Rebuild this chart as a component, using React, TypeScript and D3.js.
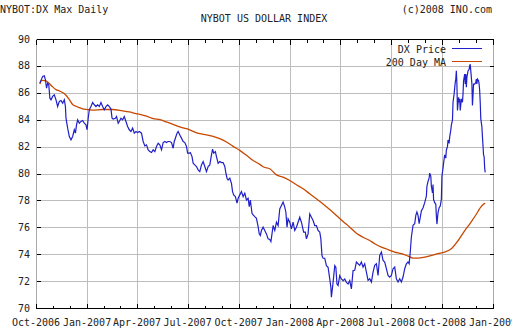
import React from "react";
import * as d3 from "d3";

const priceDates = [
  "2006-10-08","2006-10-13","2006-10-16","2006-10-18","2006-10-20","2006-10-22","2006-10-24","2006-10-26","2006-10-28","2006-10-31",
  "2006-11-03","2006-11-06","2006-11-09","2006-11-12","2006-11-15","2006-11-18","2006-11-21","2006-11-23","2006-11-24","2006-11-27",
  "2006-11-30","2006-12-03","2006-12-06","2006-12-09","2006-12-11","2006-12-13","2006-12-15","2006-12-18","2006-12-21","2006-12-24",
  "2006-12-27","2006-12-30","2007-01-01","2007-01-03","2007-01-05","2007-01-08","2007-01-11","2007-01-14","2007-01-17","2007-01-20",
  "2007-01-23","2007-01-26","2007-01-29","2007-02-01","2007-02-04","2007-02-07","2007-02-10","2007-02-13","2007-02-15","2007-02-17",
  "2007-02-21","2007-02-23","2007-02-26","2007-02-28","2007-03-03","2007-03-06","2007-03-09","2007-03-12","2007-03-15","2007-03-18",
  "2007-03-21","2007-03-24","2007-03-27","2007-03-30","2007-04-02","2007-04-05","2007-04-09","2007-04-12","2007-04-15","2007-04-18",
  "2007-04-21","2007-04-24","2007-04-27","2007-04-30","2007-05-03","2007-05-06","2007-05-09","2007-05-12","2007-05-15","2007-05-18",
  "2007-05-21","2007-05-24","2007-05-27","2007-05-30","2007-06-02","2007-06-05","2007-06-07","2007-06-10","2007-06-12","2007-06-14",
  "2007-06-17","2007-06-20","2007-06-23","2007-06-26","2007-06-29","2007-07-01","2007-07-04","2007-07-06","2007-07-09","2007-07-11",
  "2007-07-14","2007-07-17","2007-07-20","2007-07-23","2007-07-26","2007-07-29","2007-08-01","2007-08-04","2007-08-07","2007-08-10",
  "2007-08-13","2007-08-15","2007-08-17","2007-08-20","2007-08-22","2007-08-25","2007-08-28","2007-08-31","2007-09-03","2007-09-06",
  "2007-09-08","2007-09-10","2007-09-12","2007-09-15","2007-09-18","2007-09-20","2007-09-22","2007-09-25","2007-09-28","2007-09-30",
  "2007-10-03","2007-10-06","2007-10-09","2007-10-12","2007-10-15","2007-10-18","2007-10-20","2007-10-22","2007-10-25","2007-10-27",
  "2007-10-30","2007-11-02","2007-11-05","2007-11-07","2007-11-09","2007-11-11","2007-11-14","2007-11-17","2007-11-20","2007-11-23",
  "2007-11-26","2007-11-28","2007-11-30","2007-12-02","2007-12-05","2007-12-08","2007-12-11","2007-12-14","2007-12-17","2007-12-20",
  "2007-12-23","2007-12-25","2007-12-27","2007-12-29","2008-01-01","2008-01-04","2008-01-07","2008-01-10","2008-01-13","2008-01-16",
  "2008-01-19","2008-01-22","2008-01-24","2008-01-26","2008-01-29","2008-01-31","2008-02-03","2008-02-06","2008-02-09","2008-02-12",
  "2008-02-15","2008-02-18","2008-02-21","2008-02-24","2008-02-26","2008-02-28","2008-03-01","2008-03-04","2008-03-07","2008-03-10",
  "2008-03-13","2008-03-15","2008-03-16","2008-03-19","2008-03-22","2008-03-24","2008-03-26","2008-03-28","2008-03-31","2008-04-03",
  "2008-04-06","2008-04-09","2008-04-12","2008-04-15","2008-04-18","2008-04-21","2008-04-24","2008-04-27","2008-04-30","2008-05-03",
  "2008-05-06","2008-05-09","2008-05-12","2008-05-15","2008-05-18","2008-05-21","2008-05-24","2008-05-27","2008-05-30","2008-06-02",
  "2008-06-05","2008-06-08","2008-06-11","2008-06-14","2008-06-17","2008-06-20","2008-06-23","2008-06-26","2008-06-29","2008-07-02",
  "2008-07-05","2008-07-08","2008-07-11","2008-07-14","2008-07-17","2008-07-20","2008-07-23","2008-07-26","2008-07-29","2008-08-01",
  "2008-08-03","2008-08-05","2008-08-07","2008-08-10","2008-08-13","2008-08-15","2008-08-17","2008-08-19","2008-08-21","2008-08-25",
  "2008-08-28","2008-08-31","2008-09-03","2008-09-04","2008-09-06","2008-09-08","2008-09-09","2008-09-11","2008-09-12","2008-09-14",
  "2008-09-15","2008-09-16","2008-09-18","2008-09-20","2008-09-21","2008-09-22","2008-09-24","2008-09-26","2008-09-28","2008-09-30",
  "2008-10-01","2008-10-03","2008-10-04","2008-10-06","2008-10-08","2008-10-09","2008-10-11","2008-10-12","2008-10-14","2008-10-15",
  "2008-10-17","2008-10-18","2008-10-20","2008-10-21","2008-10-23","2008-10-25","2008-10-26","2008-10-27","2008-10-28","2008-10-29",
  "2008-10-31","2008-11-01","2008-11-02","2008-11-03","2008-11-05","2008-11-07","2008-11-08","2008-11-09","2008-11-11","2008-11-12",
  "2008-11-13","2008-11-14","2008-11-15","2008-11-17","2008-11-19","2008-11-20","2008-11-21","2008-11-22","2008-11-24","2008-11-25",
  "2008-11-26","2008-11-27","2008-11-29","2008-12-01","2008-12-02","2008-12-03","2008-12-04","2008-12-06","2008-12-07","2008-12-08",
  "2008-12-09","2008-12-10","2008-12-12","2008-12-13","2008-12-15","2008-12-16","2008-12-17","2008-12-18"
];

const priceValues = [
  86.72,87.22,87.27,86.97,86.35,86.72,86.60,85.60,85.48,85.73,
  85.85,85.48,84.98,85.36,85.43,85.23,85.48,84.98,84.11,83.37,
  82.75,82.50,82.75,83.25,83.00,83.62,83.99,83.74,83.87,83.94,
  83.74,83.62,83.25,84.11,84.74,84.98,85.28,85.11,84.98,85.11,
  84.98,85.28,84.98,84.74,84.98,85.11,84.98,84.79,84.11,84.04,
  84.11,84.24,83.74,83.87,84.11,83.99,84.24,83.87,83.50,83.25,
  83.12,83.37,83.00,83.12,83.05,83.12,83.00,82.38,82.05,82.13,
  81.76,81.63,81.56,81.76,81.63,82.01,82.25,82.13,81.76,82.30,
  82.38,82.30,82.38,82.38,82.30,81.88,82.38,82.75,83.00,83.12,
  82.87,82.63,82.38,82.30,82.01,81.51,81.51,81.56,81.26,80.76,
  80.64,80.52,80.27,80.14,80.64,80.89,80.52,80.14,80.52,80.64,
  81.38,81.81,81.51,81.63,81.26,80.76,80.89,80.81,80.81,80.52,
  80.02,79.65,79.52,79.65,79.27,78.65,78.41,78.28,77.79,78.16,
  78.41,78.65,78.28,78.53,78.03,78.16,77.54,78.03,77.04,76.92,
  76.79,76.67,76.05,75.51,75.39,75.76,76.01,75.76,75.51,75.14,
  75.09,74.94,75.51,76.13,75.76,76.38,76.13,77.37,77.62,77.87,
  77.50,77.12,76.01,76.63,76.38,75.88,76.38,75.76,76.01,76.38,
  76.75,76.38,76.01,75.64,75.64,75.14,75.51,77.00,76.75,76.50,
  76.13,76.13,75.76,75.64,75.14,73.90,73.70,73.70,73.15,73.03,
  72.16,71.54,70.80,71.91,73.15,73.03,71.79,71.67,72.41,72.16,
  72.04,72.16,71.91,71.79,72.04,71.42,72.78,72.80,73.42,73.29,
  73.17,73.42,73.04,73.29,72.67,72.05,72.17,71.93,72.67,73.17,
  73.29,72.42,73.91,74.16,73.54,73.42,72.92,72.42,72.30,72.42,
  72.92,73.04,72.17,71.93,72.17,71.93,72.30,72.92,73.29,73.42,
  73.29,74.16,75.28,76.15,76.27,76.89,77.14,76.89,76.27,77.22,
  77.46,77.83,78.32,79.05,79.42,79.67,80.03,79.79,79.05,78.56,
  79.18,78.07,77.83,77.71,76.85,76.24,77.09,77.46,77.58,78.07,
  79.79,80.40,80.77,81.38,81.14,81.75,81.99,82.49,82.24,82.73,
  83.22,83.59,83.96,85.30,85.92,86.77,87.02,87.63,86.65,84.69,
  85.67,85.30,85.55,84.69,85.55,85.30,85.92,86.90,87.39,86.65,
  87.39,86.41,87.14,87.63,87.75,88.00,88.12,87.63,86.65,85.06,
  85.80,86.65,86.65,86.77,87.02,86.65,87.02,86.90,86.65,86.16,
  85.30,84.08,83.47,82.73,81.38,81.26,80.40,80.08
];

const maDates = [
  "2006-10-08","2006-10-10","2006-10-13","2006-10-19","2006-10-25","2006-10-31","2006-11-06","2006-11-12","2006-11-18","2006-11-24",
  "2006-11-30","2006-12-06","2006-12-12","2006-12-18","2006-12-24","2006-12-30","2007-01-11","2007-01-29","2007-02-16","2007-03-06",
  "2007-03-18","2007-03-30","2007-04-06","2007-04-18","2007-04-30","2007-05-12","2007-05-24","2007-06-05","2007-06-17","2007-06-29",
  "2007-07-11","2007-07-23","2007-08-04","2007-08-16","2007-08-28","2007-09-09","2007-09-21","2007-10-03","2007-10-15","2007-10-27",
  "2007-11-08","2007-11-15","2007-11-26","2007-12-08","2007-12-20","2008-01-01","2008-01-13","2008-01-25","2008-02-06","2008-02-18",
  "2008-03-01","2008-03-13","2008-03-25","2008-04-06","2008-04-18","2008-04-30","2008-05-12","2008-05-24","2008-06-02","2008-06-14",
  "2008-06-26","2008-07-08","2008-07-20","2008-08-01","2008-08-10","2008-08-19","2008-08-31","2008-09-12","2008-09-24","2008-10-06",
  "2008-10-18","2008-10-30","2008-11-14","2008-11-20","2008-11-26","2008-12-02","2008-12-08","2008-12-14","2008-12-18"
];

const maValues = [
  86.64,86.89,86.93,86.89,86.69,86.44,86.24,86.14,86.02,85.82,
  85.50,85.13,85.00,84.90,84.81,84.76,84.71,84.76,84.76,84.66,
  84.58,84.46,84.40,84.27,84.08,84.00,83.83,83.65,83.46,83.33,
  83.13,82.96,82.88,82.76,82.59,82.34,82.02,81.72,81.35,80.97,
  80.68,80.48,80.35,79.90,79.73,79.48,79.16,78.86,78.49,78.12,
  77.74,77.32,76.88,76.43,76.01,75.56,75.26,75.02,74.78,74.53,
  74.34,74.16,74.04,73.86,73.71,73.71,73.79,73.91,74.04,74.16,
  74.40,75.00,75.92,76.24,76.60,76.97,77.39,77.70,77.78
];

const yTicks = [70, 72, 74, 76, 78, 80, 82, 84, 86, 88, 90];
const xTickDates = ["2006-10-01","2007-01-01","2007-04-01","2007-07-01","2007-10-01","2008-01-01","2008-04-01","2008-07-01","2008-10-01","2009-01-01"];
const xTickLabels = ["Oct-2006","Jan-2007","Apr-2007","Jul-2007","Oct-2007","Jan-2008","Apr-2008","Jul-2008","Oct-2008","Jan-2009"];
const seriesNames = ["DX Price", "200 Day MA"];
const seriesColors = ["#2020c8", "#c84800"];

const FONT = "'DejaVu Sans Mono', 'Liberation Mono', monospace";

export default function App() {
  const W = 512, H = 336;
  const parse = d3.timeParse("%Y-%m-%d");
  const start = parse("2006-10-01") as Date;
  const end = parse("2009-01-01") as Date;
  const x = d3.scaleTime().domain([start, end]).range([36, 493]);
  const y = d3.scaleLinear().domain([70, 90]).range([308, 39]);
  const L = 36, R = 493, T = 39, B = 308;
  const snap = (v: number) => Math.round(v) + 0.5;

  const price = priceDates.map((d, i) => ({ d: parse(d) as Date, v: priceValues[i] }));
  const ma = maDates.map((d, i) => ({ d: parse(d) as Date, v: maValues[i] }));
  const line = d3.line<{ d: Date; v: number }>().x(p => x(p.d)).y(p => y(p.v));
  const maLine = d3.line<{ d: Date; v: number }>().x(p => x(p.d)).y(p => y(p.v)).curve(d3.curveMonotoneX);

  const months = d3.timeMonth.range(start, d3.timeDay.offset(end, 1));
  const quarters = xTickDates.map(d => parse(d) as Date);

  return (
    <svg width={W} height={H} style={{ position: "absolute", left: 0, top: 0, background: "#fff" }}
      fontFamily={FONT} fontSize={10}>
      <rect x={0} y={0} width={W} height={H} fill="#fff" />
      {/* grid */}
      {yTicks.filter(t => t > 70 && t < 90).map(t => (
        <line key={"gy" + t} x1={L} x2={R} y1={snap(y(t))} y2={snap(y(t))} stroke="#bdbdbd" shapeRendering="crispEdges" />
      ))}
      {quarters.slice(1, -1).map((q, i) => (
        <line key={"gx" + i} x1={snap(x(q))} x2={snap(x(q))} y1={T} y2={B} stroke="#bdbdbd" shapeRendering="crispEdges" />
      ))}
      {/* frame */}
      <line x1={snap(L)} x2={snap(L)} y1={T} y2={B} stroke="#aaaaaa" shapeRendering="crispEdges" />
      <line x1={snap(R)} x2={snap(R)} y1={T} y2={B} stroke="#aaaaaa" shapeRendering="crispEdges" />
      <line x1={snap(L)} x2={snap(R) + 0.5} y1={snap(T)} y2={snap(T)} stroke="#000" shapeRendering="crispEdges" />
      <line x1={snap(L)} x2={snap(R) + 0.5} y1={snap(B)} y2={snap(B)} stroke="#000" shapeRendering="crispEdges" />
      {/* y ticks */}
      {yTicks.map(t => (
        <g key={"yt" + t}>
          <line x1={snap(L)} x2={snap(L) + 4} y1={snap(y(t))} y2={snap(y(t))} stroke="#000" shapeRendering="crispEdges" />
          <line x1={snap(R) - 4} x2={snap(R)} y1={snap(y(t))} y2={snap(y(t))} stroke="#000" shapeRendering="crispEdges" />
          <text x={30} y={y(t)} dy="0.35em" textAnchor="end" fill="#222">{t}</text>
        </g>
      ))}
      {/* x ticks */}
      {months.map((m, i) => {
        const major = m.getMonth() % 3 === 0;
        const len = major ? 5 : 3;
        const xx = snap(x(m));
        return (
          <g key={"xt" + i}>
            <line x1={xx} x2={xx} y1={snap(B)} y2={snap(B) - len} stroke="#000" shapeRendering="crispEdges" />
            <line x1={xx} x2={xx} y1={snap(T)} y2={snap(T) + len} stroke="#000" shapeRendering="crispEdges" />
          </g>
        );
      })}
      {quarters.map((q, i) => (
        <text key={"xl" + i} x={x(q)} y={326} textAnchor="middle" fill="#222">{xTickLabels[i]}</text>
      ))}
      {/* series */}
      <path d={maLine(ma) || ""} fill="none" stroke={seriesColors[1]} strokeWidth={1.3} />
      <path d={line(price) || ""} fill="none" stroke={seriesColors[0]} strokeWidth={1.2} />
      {/* legend */}
      {seriesNames.map((n, i) => (
        <g key={"lg" + i}>
          <text x={446} y={49 + i * 13} dy="0.35em" textAnchor="end" fill="#222">{n}</text>
          <line x1={452} x2={482} y1={48.5 + i * 13} y2={48.5 + i * 13} stroke={seriesColors[i]} strokeWidth={1} shapeRendering="crispEdges" />
        </g>
      ))}
      {/* titles */}
      <text x={0} y={13} fill="#222">NYBOT:DX Max Daily</text>
      <text x={492} y={13} textAnchor="end" fill="#222">(c)2008 INO.com</text>
      <text x={264} y={22} textAnchor="middle" fill="#222">NYBOT US DOLLAR INDEX</text>
    </svg>
  );
}
